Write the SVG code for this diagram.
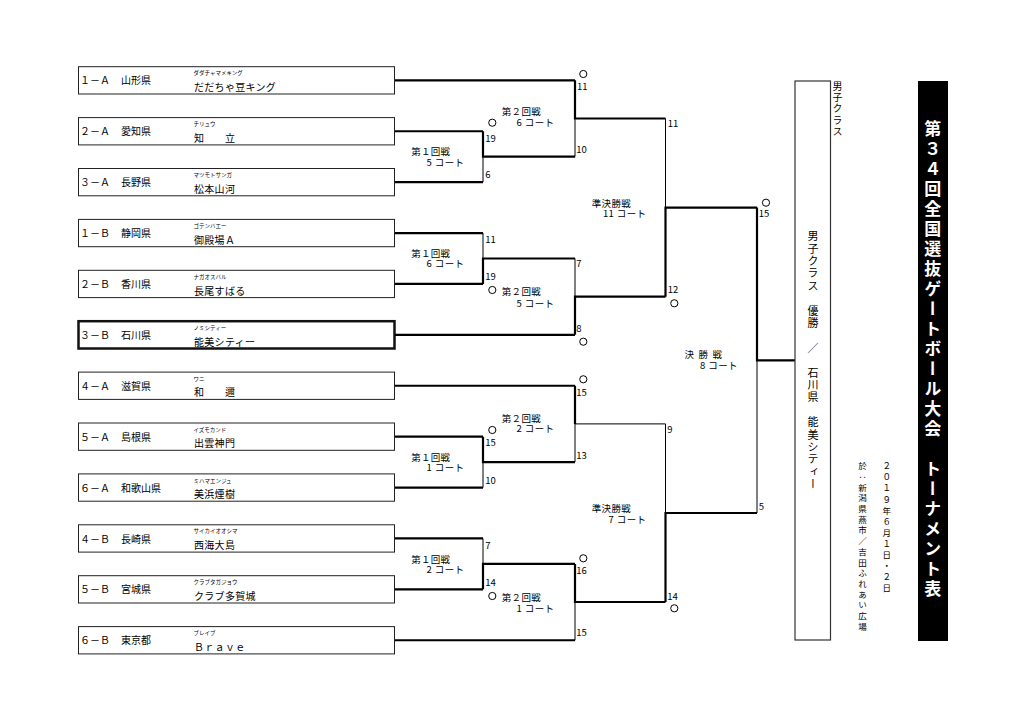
<svg xmlns="http://www.w3.org/2000/svg" width="1024" height="722" viewBox="0 0 1024 722">
<style>
text{font-family:"Noto Sans CJK JP","Noto Sans",sans-serif;fill:#000}
.box{fill:#fff;stroke:#222;stroke-width:1}
.win{fill:#fff;stroke:#111;stroke-width:2.5}
.lab{font-size:10px}
.kana{font-size:5.5px}
.nm{font-size:10px;letter-spacing:0.3px}
.rd{font-size:9.5px;letter-spacing:0.3px}
.ct{font-size:9.5px;letter-spacing:0.4px;text-anchor:end}
.sc{font-size:9.5px}
.thick{fill:none;stroke:#000;stroke-width:2.2}
.thin{fill:none;stroke:#000;stroke-width:1}
.o{fill:none;stroke:#000;stroke-width:1}
.v{writing-mode:vertical-rl}
</style>
<rect width="1024" height="722" fill="#fff"/>

<g id="team-1A" transform="translate(0,66.7)"><rect class="box" x="78.5" y="0" width="316" height="27.3"/><text class="lab" x="80" y="17.8">１－Ａ</text><text class="lab" x="121" y="17.8">山形県</text><text class="kana" x="193.5" y="8.7">ダダチャマメキング</text><text class="nm" x="194" y="24.4">だだちゃ豆キング</text></g>
<g id="team-2A" transform="translate(0,117.6)"><rect class="box" x="78.5" y="0" width="316" height="27.3"/><text class="lab" x="80" y="17.8">２－Ａ</text><text class="lab" x="121" y="17.8">愛知県</text><text class="kana" x="193.5" y="8.7">チリュウ</text><text class="nm" x="194" y="24.4">知　　立</text></g>
<g id="team-3A" transform="translate(0,168.5)"><rect class="box" x="78.5" y="0" width="316" height="27.3"/><text class="lab" x="80" y="17.8">３－Ａ</text><text class="lab" x="121" y="17.8">長野県</text><text class="kana" x="193.5" y="8.7">マツモトサンガ</text><text class="nm" x="194" y="24.4">松本山河</text></g>
<g id="team-1B" transform="translate(0,219.4)"><rect class="box" x="78.5" y="0" width="316" height="27.3"/><text class="lab" x="80" y="17.8">１－Ｂ</text><text class="lab" x="121" y="17.8">静岡県</text><text class="kana" x="193.5" y="8.7">ゴテンバエー</text><text class="nm" x="194" y="24.4">御殿場Ａ</text></g>
<g id="team-2B" transform="translate(0,270.3)"><rect class="box" x="78.5" y="0" width="316" height="27.3"/><text class="lab" x="80" y="17.8">２－Ｂ</text><text class="lab" x="121" y="17.8">香川県</text><text class="kana" x="193.5" y="8.7">ナガオスバル</text><text class="nm" x="194" y="24.4">長尾すばる</text></g>
<g id="team-3B" transform="translate(0,321.2)"><rect class="win" x="78.5" y="0" width="316" height="27.3"/><text class="lab" x="80" y="17.8">３－Ｂ</text><text class="lab" x="121" y="17.8">石川県</text><text class="kana" x="193.5" y="8.7">ノミシティー</text><text class="nm" x="194" y="24.4">能美シティー</text></g>
<g id="team-4A" transform="translate(0,372.1)"><rect class="box" x="78.5" y="0" width="316" height="27.3"/><text class="lab" x="80" y="17.8">４－Ａ</text><text class="lab" x="121" y="17.8">滋賀県</text><text class="kana" x="193.5" y="8.7">ワニ</text><text class="nm" x="194" y="24.4">和　　邇</text></g>
<g id="team-5A" transform="translate(0,423)"><rect class="box" x="78.5" y="0" width="316" height="27.3"/><text class="lab" x="80" y="17.8">５－Ａ</text><text class="lab" x="121" y="17.8">島根県</text><text class="kana" x="193.5" y="8.7">イズモカンド</text><text class="nm" x="194" y="24.4">出雲神門</text></g>
<g id="team-6A" transform="translate(0,473.9)"><rect class="box" x="78.5" y="0" width="316" height="27.3"/><text class="lab" x="80" y="17.8">６－Ａ</text><text class="lab" x="121" y="17.8">和歌山県</text><text class="kana" x="193.5" y="8.7">ミハマエンジュ</text><text class="nm" x="194" y="24.4">美浜煙樹</text></g>
<g id="team-4B" transform="translate(0,524.8)"><rect class="box" x="78.5" y="0" width="316" height="27.3"/><text class="lab" x="80" y="17.8">４－Ｂ</text><text class="lab" x="121" y="17.8">長崎県</text><text class="kana" x="193.5" y="8.7">サイカイオオシマ</text><text class="nm" x="194" y="24.4">西海大島</text></g>
<g id="team-5B" transform="translate(0,575.7)"><rect class="box" x="78.5" y="0" width="316" height="27.3"/><text class="lab" x="80" y="17.8">５－Ｂ</text><text class="lab" x="121" y="17.8">宮城県</text><text class="kana" x="193.5" y="8.7">クラブタガジョウ</text><text class="nm" x="194" y="24.4">クラブ多賀城</text></g>
<g id="team-6B" transform="translate(0,626.6)"><rect class="box" x="78.5" y="0" width="316" height="27.3"/><text class="lab" x="80" y="17.8">６－Ｂ</text><text class="lab" x="121" y="17.8">東京都</text><text class="kana" x="193.5" y="8.7">ブレイブ</text><text class="nm" x="194" y="24.4">Ｂｒａｖｅ</text></g>

<g id="connectors">
<path class="thick" d="M395 80.35H575M395 131.25H483M395 182.15H483M395 233.05H483M395 283.95H483M395 334.85H575M395 385.75H575M395 436.65H483M395 487.55H483M395 538.45H483M395 589.35H483M395 640.25H575"/>
<path class="thick" d="M483 131.25V156.7H575M575 80.35V118.5H665.5M483 283.95V258.5H575M575 334.85V296.7H665.5M665.5 296.7V207.6H757M757 207.6V360.3H795M483 436.65V462.1H575M575 385.75V423.9M483 589.35V563.9H575M575 563.9V602H665.5M665.5 602V513H757"/>
<path class="thin" d="M483 156.7V182.15M575 118.5V156.7M483 233.05V258.5M575 258.5V296.7M665.5 118.5V207.6M757 360.3V513M483 462.1V487.55M575 423.9V462.1M575 423.9H665.5V513M483 538.45V563.9M575 602V640.25"/>
</g>

<g id="marks">
<circle class="o" cx="583.3" cy="74" r="3.6"/>
<circle class="o" cx="492.3" cy="122.7" r="3.6"/>
<circle class="o" cx="766" cy="202.7" r="3.6"/>
<circle class="o" cx="492.3" cy="290" r="3.6"/>
<circle class="o" cx="674.3" cy="303.3" r="3.6"/>
<circle class="o" cx="583.3" cy="341.7" r="3.6"/>
<circle class="o" cx="583.3" cy="379.3" r="3.6"/>
<circle class="o" cx="492.3" cy="430" r="3.6"/>
<circle class="o" cx="583.3" cy="558.3" r="3.6"/>
<circle class="o" cx="492.3" cy="596" r="3.6"/>
<circle class="o" cx="674.3" cy="608.3" r="3.6"/>
</g>

<g id="scores">
<text class="sc" x="577" y="90.1">11</text>
<text class="sc" x="485.2" y="141.9">19</text>
<text class="sc" x="576.2" y="153.4">10</text>
<text class="sc" x="667.8" y="127.1">11</text>
<text class="sc" x="485.2" y="178.4">6</text>
<text class="sc" x="758.8" y="216.7">15</text>
<text class="sc" x="485.2" y="243.4">11</text>
<text class="sc" x="576.2" y="267.1">7</text>
<text class="sc" x="485.2" y="280.4">19</text>
<text class="sc" x="667.8" y="293.4">12</text>
<text class="sc" x="576.2" y="331.7">8</text>
<text class="sc" x="576.2" y="396.1">15</text>
<text class="sc" x="485.2" y="446.4">15</text>
<text class="sc" x="667.2" y="433.4">9</text>
<text class="sc" x="576.2" y="459.4">13</text>
<text class="sc" x="485.2" y="483.7">10</text>
<text class="sc" x="758.8" y="510.4">5</text>
<text class="sc" x="485.2" y="548.6">7</text>
<text class="sc" x="576.2" y="573.7">16</text>
<text class="sc" x="485.2" y="585.6">14</text>
<text class="sc" x="667.2" y="599.7">14</text>
<text class="sc" x="576.2" y="636.4">15</text>
</g>

<g id="rounds">
<text class="rd" x="411.2" y="155.4">第１回戦</text><text class="ct" x="464.5" y="165.7">5 コート</text>
<text class="rd" x="411.2" y="257.2">第１回戦</text><text class="ct" x="464.5" y="267.4">6 コート</text>
<text class="rd" x="411.2" y="460.9">第１回戦</text><text class="ct" x="464.5" y="471.2">1 コート</text>
<text class="rd" x="411.2" y="562.9">第１回戦</text><text class="ct" x="464.5" y="573.4">2 コート</text>
<text class="rd" x="501.8" y="115.4">第２回戦</text><text class="ct" x="554.5" y="126.4">6 コート</text>
<text class="rd" x="501.8" y="295.1">第２回戦</text><text class="ct" x="554.5" y="307.1">5 コート</text>
<text class="rd" x="501.8" y="421.7">第２回戦</text><text class="ct" x="554.5" y="432.2">2 コート</text>
<text class="rd" x="501.8" y="600.9">第２回戦</text><text class="ct" x="554.5" y="612.4">1 コート</text>
<text class="rd" x="591.8" y="207.4">準決勝戦</text><text class="ct" x="646.5" y="217.1">11 コート</text>
<text class="rd" x="591.8" y="512.4">準決勝戦</text><text class="ct" x="646.5" y="522.6">7 コート</text>
<text class="rd" x="684.5" y="357.9" style="letter-spacing:1.2px">決 勝 戦</text><text class="ct" x="738" y="368.6">8 コート</text>
</g>

<g id="champion">
<rect x="795" y="81" width="35.5" height="559" fill="#fff" stroke="#333" stroke-width="1.2"/>
<text class="v" x="813" y="230.5" style="font-size:11px;letter-spacing:1.4px">男子クラス　優勝　／　石川県　能美シティー</text>
</g>

<g id="header">
<text class="v" x="837.5" y="81" style="font-size:10px;letter-spacing:1.25px">男子クラス</text>
<text class="v" x="886.7" y="462" style="font-size:8.5px;letter-spacing:2.55px">２０１９年６月１日・２日</text>
<text class="v" x="862.5" y="462" style="font-size:8.5px;letter-spacing:2.17px">於：新潟県燕市／吉田ふれあい広場</text>
<rect x="918" y="81" width="30" height="560" fill="#000"/>
<text class="v" x="932.8" y="120.5" style="font-size:17px;font-weight:bold;letter-spacing:3px;fill:#fff">第３４回全国選抜ゲートボール大会　トーナメント表</text>
</g>
</svg>
